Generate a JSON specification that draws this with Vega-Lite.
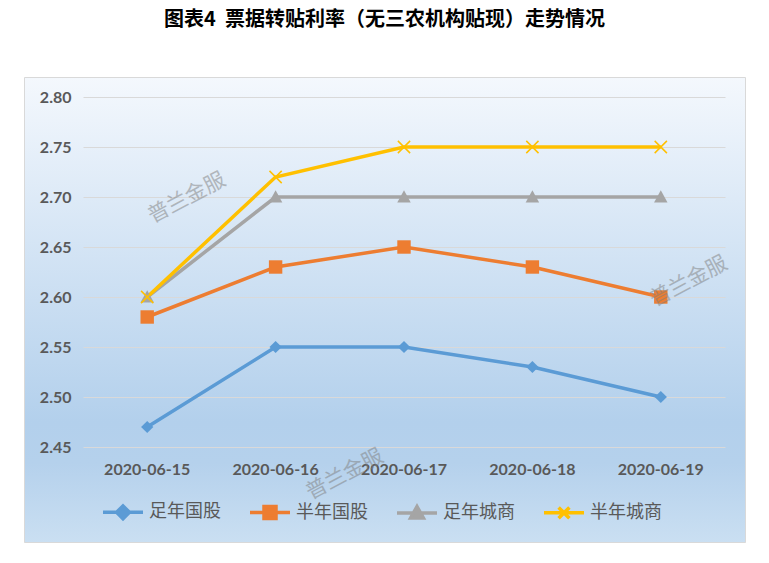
{
  "$schema": "https://vega.github.io/schema/vega-lite/v6.json",
  "width": 721,
  "height": 465,
  "autosize": {"type": "none"},
  "padding": {"left": 24, "top": 77, "right": 24, "bottom": 21},
  "background": "white",
  "title": {
    "text": "图表4\u00a0\u00a0票据转贴利率（无三农机构贴现）走势情况",
    "font": "Noto Sans CJK SC",
    "fontSize": 20,
    "fontWeight": "bold",
    "color": "#000000",
    "anchor": "middle",
    "baseline": "bottom",
    "offset": 27
  },
  "view": {
    "fill": {
      "gradient": "linear",
      "x1": 0, "y1": 0, "x2": 0, "y2": 1,
      "stops": [
        {"offset": 0, "color": "#f4f8fd"},
        {"offset": 0.74, "color": "#b3d0ec"},
        {"offset": 0.83, "color": "#b5d1ec"},
        {"offset": 1, "color": "#cadff2"}
      ]
    },
    "stroke": "#d9d9d9",
    "strokeWidth": 1
  },
  "datasets": {
    "rates": [
      {"date": "2020-06-15", "series": "足年国股", "value": 2.47},
      {"date": "2020-06-16", "series": "足年国股", "value": 2.55},
      {"date": "2020-06-17", "series": "足年国股", "value": 2.55},
      {"date": "2020-06-18", "series": "足年国股", "value": 2.53},
      {"date": "2020-06-19", "series": "足年国股", "value": 2.50},
      {"date": "2020-06-15", "series": "半年国股", "value": 2.58},
      {"date": "2020-06-16", "series": "半年国股", "value": 2.63},
      {"date": "2020-06-17", "series": "半年国股", "value": 2.65},
      {"date": "2020-06-18", "series": "半年国股", "value": 2.63},
      {"date": "2020-06-19", "series": "半年国股", "value": 2.60},
      {"date": "2020-06-15", "series": "足年城商", "value": 2.60},
      {"date": "2020-06-16", "series": "足年城商", "value": 2.70},
      {"date": "2020-06-17", "series": "足年城商", "value": 2.70},
      {"date": "2020-06-18", "series": "足年城商", "value": 2.70},
      {"date": "2020-06-19", "series": "足年城商", "value": 2.70},
      {"date": "2020-06-15", "series": "半年城商", "value": 2.60},
      {"date": "2020-06-16", "series": "半年城商", "value": 2.72},
      {"date": "2020-06-17", "series": "半年城商", "value": 2.75},
      {"date": "2020-06-18", "series": "半年城商", "value": 2.75},
      {"date": "2020-06-19", "series": "半年城商", "value": 2.75}
    ],
    "wmA": [
      {"date": "2020-06-15", "value": 2.699, "t": "普兰金服"}
    ],
    "wmC": [
      {"date": "2020-06-19", "value": 2.615, "t": "普兰金服"}
    ],
    "wmB": [
      {"date": "2020-06-17", "value": 2.422, "t": "普兰金服"}
    ]
  },
  "encoding": {
    "x": {
      "field": "date",
      "type": "ordinal",
      "scale": {"type": "band", "range": [59, 701], "paddingInner": 0, "paddingOuter": 0},
      "axis": {
        "title": null,
        "orient": "bottom",
        "offset": -95,
        "domain": false,
        "ticks": false,
        "grid": false,
        "labelAngle": 0,
        "labelPadding": 14,
        "labelFont": "Lato",
        "labelFontSize": 16,
        "labelFontWeight": "bold",
        "labelColor": "#595959"
      }
    },
    "y": {
      "field": "value",
      "type": "quantitative",
      "scale": {"domain": [2.45, 2.8], "range": [370, 20], "nice": false, "zero": false},
      "axis": {
        "title": null,
        "values": [2.45, 2.5, 2.55, 2.6, 2.65, 2.7, 2.75, 2.8],
        "format": ".2f",
        "offset": -59,
        "domain": false,
        "ticks": false,
        "labelPadding": 12,
        "labelFont": "Lato",
        "labelFontSize": 16,
        "labelFontWeight": "bold",
        "labelColor": "#595959",
        "grid": true,
        "gridColor": "#d9d9d9",
        "gridWidth": 1
      }
    },
    "color": {
      "field": "series",
      "type": "nominal",
      "scale": {
        "domain": ["足年国股", "半年国股", "足年城商", "半年城商"],
        "range": ["#5b9bd5", "#ed7d31", "#a5a5a5", "#ffc000"]
      },
      "legend": {
        "title": null,
        "orient": "none",
        "direction": "horizontal",
        "columns": 4,
        "legendX": 77,
        "legendY": 413,
        "padding": 0,
        "columnPadding": 22,
        "labelOffset": 4,
        "labelFont": "Noto Sans CJK SC",
        "labelFontSize": 18,
        "labelColor": "#595959",
        "symbolSize": 1600,
        "symbolStrokeWidth": 3.5,
        "encode": {
          "symbols": {
            "update": {
              "shape": {"signal": "datum.value === '足年国股' ? 'M-1,0L1,0M0,-0.32L0.32,0L0,0.32L-0.32,0Z' : datum.value === '半年国股' ? 'M-1,0L1,0M-0.3,-0.3L0.3,-0.3L0.3,0.3L-0.3,0.3Z' : datum.value === '足年城商' ? 'M-1,0L1,0M0,-0.32L0.32,0.26L-0.32,0.26Z' : 'M-1,0L1,0M-0.27,-0.27L0.27,0.27M-0.27,0.27L0.27,-0.27'"},
              "fill": {"scale": "color", "field": "value"},
              "stroke": {"scale": "color", "field": "value"},
              "strokeWidth": {"value": 3.5},
              "size": {"value": 1600}
            }
          }
        }
      }
    }
  },
  "layer": [
    {
      "data": {"name": "rates"},
      "mark": {"type": "line", "strokeWidth": 3.5}
    },
    {
      "data": {"name": "rates"},
      "transform": [{"filter": "datum.series === '足年国股'"}],
      "mark": {"type": "point", "filled": true, "size": 150, "opacity": 1, "shape": "M0,-1L1,0L0,1L-1,0Z"}
    },
    {
      "data": {"name": "rates"},
      "transform": [{"filter": "datum.series === '半年国股'"}],
      "mark": {"type": "point", "filled": true, "size": 180, "opacity": 1, "shape": "M-1,-1L1,-1L1,1L-1,1Z"}
    },
    {
      "data": {"name": "rates"},
      "transform": [{"filter": "datum.series === '足年城商'"}],
      "mark": {"type": "point", "filled": true, "size": 150, "opacity": 1, "shape": "M0,-1.1L1.1,0.9L-1.1,0.9Z"}
    },
    {
      "data": {"name": "rates"},
      "transform": [{"filter": "datum.series === '半年城商'"}],
      "mark": {"type": "point", "filled": false, "size": 150, "opacity": 1, "strokeWidth": 1.5, "shape": "M-1,-1L1,1M-1,1L1,-1"}
    },
    {
      "data": {"name": "wmA"},
      "mark": {"type": "text", "dx": 35, "dy": 19, "angle": -28, "font": "Noto Sans CJK SC", "fontSize": 21, "color": "#808080", "opacity": 0.5},
      "encoding": {"text": {"field": "t"}, "color": {"value": "#808080"}}
    },
    {
      "data": {"name": "wmC"},
      "mark": {"type": "text", "dx": 25, "dy": 13, "angle": -28, "font": "Noto Sans CJK SC", "fontSize": 21, "color": "#808080", "opacity": 0.5},
      "encoding": {"text": {"field": "t"}, "color": {"value": "#808080"}}
    },
    {
      "data": {"name": "wmB"},
      "mark": {"type": "text", "dx": -52, "dy": -28, "angle": -28, "font": "Noto Sans CJK SC", "fontSize": 21, "color": "#808080", "opacity": 0.5},
      "encoding": {"text": {"field": "t"}, "color": {"value": "#808080"}}
    }
  ]
}
